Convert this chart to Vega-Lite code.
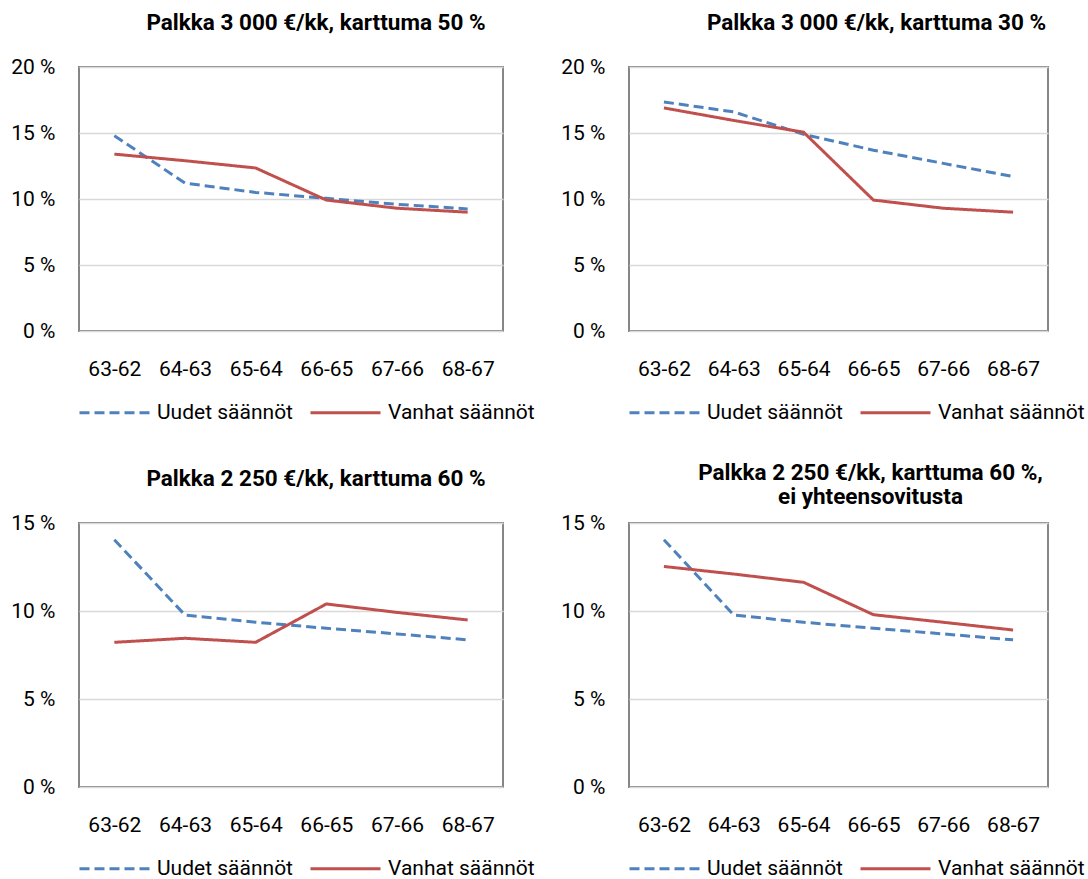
{
  "$schema": "https://vega.github.io/schema/vega-lite/v6.json",
  "background": "white",
  "padding": {"left": 9, "top": 10, "right": 5, "bottom": 0},
  "datasets": {
    "d": [
      {"panel": 1, "cat": "63-62", "series": "Uudet säännöt", "value": 14.8},
      {"panel": 1, "cat": "64-63", "series": "Uudet säännöt", "value": 11.2},
      {"panel": 1, "cat": "65-64", "series": "Uudet säännöt", "value": 10.5},
      {"panel": 1, "cat": "66-65", "series": "Uudet säännöt", "value": 10.05},
      {"panel": 1, "cat": "67-66", "series": "Uudet säännöt", "value": 9.6},
      {"panel": 1, "cat": "68-67", "series": "Uudet säännöt", "value": 9.25},
      {"panel": 1, "cat": "63-62", "series": "Vanhat säännöt", "value": 13.4},
      {"panel": 1, "cat": "64-63", "series": "Vanhat säännöt", "value": 12.9},
      {"panel": 1, "cat": "65-64", "series": "Vanhat säännöt", "value": 12.35},
      {"panel": 1, "cat": "66-65", "series": "Vanhat säännöt", "value": 9.92},
      {"panel": 1, "cat": "67-66", "series": "Vanhat säännöt", "value": 9.3},
      {"panel": 1, "cat": "68-67", "series": "Vanhat säännöt", "value": 9.0},
      {"panel": 2, "cat": "63-62", "series": "Uudet säännöt", "value": 17.35},
      {"panel": 2, "cat": "64-63", "series": "Uudet säännöt", "value": 16.6},
      {"panel": 2, "cat": "65-64", "series": "Uudet säännöt", "value": 14.9},
      {"panel": 2, "cat": "66-65", "series": "Uudet säännöt", "value": 13.7},
      {"panel": 2, "cat": "67-66", "series": "Uudet säännöt", "value": 12.7},
      {"panel": 2, "cat": "68-67", "series": "Uudet säännöt", "value": 11.7},
      {"panel": 2, "cat": "63-62", "series": "Vanhat säännöt", "value": 16.9},
      {"panel": 2, "cat": "64-63", "series": "Vanhat säännöt", "value": 15.95},
      {"panel": 2, "cat": "65-64", "series": "Vanhat säännöt", "value": 15.06},
      {"panel": 2, "cat": "66-65", "series": "Vanhat säännöt", "value": 9.92},
      {"panel": 2, "cat": "67-66", "series": "Vanhat säännöt", "value": 9.3},
      {"panel": 2, "cat": "68-67", "series": "Vanhat säännöt", "value": 9.0},
      {"panel": 3, "cat": "63-62", "series": "Uudet säännöt", "value": 14.05},
      {"panel": 3, "cat": "64-63", "series": "Uudet säännöt", "value": 9.77},
      {"panel": 3, "cat": "65-64", "series": "Uudet säännöt", "value": 9.36},
      {"panel": 3, "cat": "66-65", "series": "Uudet säännöt", "value": 9.02},
      {"panel": 3, "cat": "67-66", "series": "Uudet säännöt", "value": 8.7},
      {"panel": 3, "cat": "68-67", "series": "Uudet säännöt", "value": 8.36},
      {"panel": 3, "cat": "63-62", "series": "Vanhat säännöt", "value": 8.22},
      {"panel": 3, "cat": "64-63", "series": "Vanhat säännöt", "value": 8.45},
      {"panel": 3, "cat": "65-64", "series": "Vanhat säännöt", "value": 8.22},
      {"panel": 3, "cat": "66-65", "series": "Vanhat säännöt", "value": 10.4},
      {"panel": 3, "cat": "67-66", "series": "Vanhat säännöt", "value": 9.92},
      {"panel": 3, "cat": "68-67", "series": "Vanhat säännöt", "value": 9.49},
      {"panel": 4, "cat": "63-62", "series": "Uudet säännöt", "value": 14.05},
      {"panel": 4, "cat": "64-63", "series": "Uudet säännöt", "value": 9.77},
      {"panel": 4, "cat": "65-64", "series": "Uudet säännöt", "value": 9.36},
      {"panel": 4, "cat": "66-65", "series": "Uudet säännöt", "value": 9.02},
      {"panel": 4, "cat": "67-66", "series": "Uudet säännöt", "value": 8.7},
      {"panel": 4, "cat": "68-67", "series": "Uudet säännöt", "value": 8.36},
      {"panel": 4, "cat": "63-62", "series": "Vanhat säännöt", "value": 12.53},
      {"panel": 4, "cat": "64-63", "series": "Vanhat säännöt", "value": 12.1},
      {"panel": 4, "cat": "65-64", "series": "Vanhat säännöt", "value": 11.63},
      {"panel": 4, "cat": "66-65", "series": "Vanhat säännöt", "value": 9.79},
      {"panel": 4, "cat": "67-66", "series": "Vanhat säännöt", "value": 9.36},
      {"panel": 4, "cat": "68-67", "series": "Vanhat säännöt", "value": 8.92}
    ]
  },
  "data": {"name": "d"},
  "columns": 2,
  "spacing": {"row": 192, "column": 126},
  "bounds": "flush",
  "resolve": {"scale": {"y": "independent", "x": "independent"}, "legend": {"color": "independent", "strokeDash": "independent"}},
  "concat": [
    {
      "title": {"text": "Palkka  3 000 €/kk,  karttuma 50  %", "dx": 25},
      "width": 424, "height": 264,
      "transform": [{"filter": "datum.panel == 1"}],
      "mark": {"type": "line", "strokeWidth": 3},
      "encoding": {
        "x": {"field": "cat", "type": "nominal", "scale": {"padding": 0.5}, "axis": {"title": null}},
        "y": {"field": "value", "type": "quantitative", "scale": {"domain": [0, 20]}, "axis": {"title": null, "values": [0, 5, 10, 15, 20], "labelExpr": "datum.value + ' %'"}},
        "color": {"field": "series", "type": "nominal", "scale": {"domain": ["Uudet säännöt", "Vanhat säännöt"], "range": ["#4F81BD", "#C0504D"]}, "legend": {"title": null}},
        "strokeDash": {"field": "series", "type": "nominal", "scale": {"domain": ["Uudet säännöt", "Vanhat säännöt"], "range": [[10, 5], [1, 0]]}, "legend": {"title": null}}
      }
    },
    {
      "title": {"text": "Palkka  3 000 €/kk,  karttuma 30  %", "dx": 38},
      "width": 419, "height": 264,
      "transform": [{"filter": "datum.panel == 2"}],
      "mark": {"type": "line", "strokeWidth": 3},
      "encoding": {
        "x": {"field": "cat", "type": "nominal", "scale": {"padding": 0.5}, "axis": {"title": null}},
        "y": {"field": "value", "type": "quantitative", "scale": {"domain": [0, 20]}, "axis": {"title": null, "values": [0, 5, 10, 15, 20], "labelExpr": "datum.value + ' %'"}},
        "color": {"field": "series", "type": "nominal", "scale": {"domain": ["Uudet säännöt", "Vanhat säännöt"], "range": ["#4F81BD", "#C0504D"]}, "legend": {"title": null}},
        "strokeDash": {"field": "series", "type": "nominal", "scale": {"domain": ["Uudet säännöt", "Vanhat säännöt"], "range": [[10, 5], [1, 0]]}, "legend": {"title": null}}
      }
    },
    {
      "title": {"text": "Palkka  2 250 €/kk,  karttuma 60  %", "dx": 25},
      "width": 424, "height": 264,
      "transform": [{"filter": "datum.panel == 3"}],
      "mark": {"type": "line", "strokeWidth": 3},
      "encoding": {
        "x": {"field": "cat", "type": "nominal", "scale": {"padding": 0.5}, "axis": {"title": null}},
        "y": {"field": "value", "type": "quantitative", "scale": {"domain": [0, 15]}, "axis": {"title": null, "values": [0, 5, 10, 15], "labelExpr": "datum.value + ' %'"}},
        "color": {"field": "series", "type": "nominal", "scale": {"domain": ["Uudet säännöt", "Vanhat säännöt"], "range": ["#4F81BD", "#C0504D"]}, "legend": {"title": null}},
        "strokeDash": {"field": "series", "type": "nominal", "scale": {"domain": ["Uudet säännöt", "Vanhat säännöt"], "range": [[10, 5], [1, 0]]}, "legend": {"title": null}}
      }
    },
    {
      "title": {"text": ["Palkka  2 250 €/kk,  karttuma 60  %,", "ei yhteensovitusta"], "dx": 32, "offset": 4},
      "width": 419, "height": 264,
      "transform": [{"filter": "datum.panel == 4"}],
      "mark": {"type": "line", "strokeWidth": 3},
      "encoding": {
        "x": {"field": "cat", "type": "nominal", "scale": {"padding": 0.5}, "axis": {"title": null}},
        "y": {"field": "value", "type": "quantitative", "scale": {"domain": [0, 15]}, "axis": {"title": null, "values": [0, 5, 10, 15], "labelExpr": "datum.value + ' %'"}},
        "color": {"field": "series", "type": "nominal", "scale": {"domain": ["Uudet säännöt", "Vanhat säännöt"], "range": ["#4F81BD", "#C0504D"]}, "legend": {"title": null}},
        "strokeDash": {"field": "series", "type": "nominal", "scale": {"domain": ["Uudet säännöt", "Vanhat säännöt"], "range": [[10, 5], [1, 0]]}, "legend": {"title": null}}
      }
    }
  ],
  "config": {
    "font": "Roboto",
    "view": {"stroke": "#868686", "strokeWidth": 2},
    "title": {"font": "Roboto", "fontSize": 22.5, "fontWeight": "bold", "color": "#000000", "anchor": "middle", "offset": 22, "lineHeight": 24},
    "axis": {"labelFont": "Roboto", "labelFontSize": 21, "labelColor": "#000000", "ticks": false, "domain": false, "grid": false},
    "axisY": {"grid": true, "gridColor": "#d9d9d9", "gridWidth": 1.5, "labelPadding": 24},
    "axisX": {"labelPadding": 27, "labelAngle": 0},
    "legend": {"orient": "bottom", "direction": "horizontal", "labelFont": "Roboto", "labelFontSize": 21, "labelColor": "#000000", "symbolType": "M-10,0H60", "symbolSize": 4, "symbolStrokeWidth": 3, "labelOffset": 57, "columnPadding": 11, "offset": 23, "padding": 0}
  }
}
